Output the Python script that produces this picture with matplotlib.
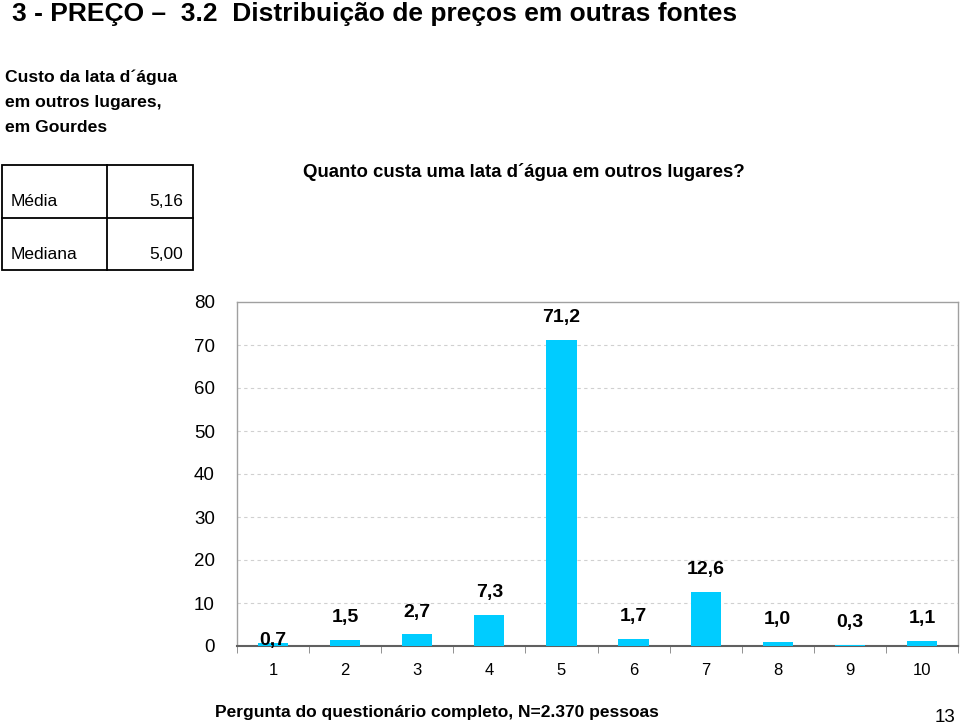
import matplotlib
matplotlib.use("Agg")
import matplotlib.pyplot as plt
from matplotlib.patches import Rectangle
from matplotlib.lines import Line2D

categories = ["1", "2", "3", "4", "5", "6", "7", "8", "9", "10"]
values = [0.7, 1.5, 2.7, 7.3, 71.2, 1.7, 12.6, 1.0, 0.3, 1.1]
labels = ["0,7", "1,5", "2,7", "7,3", "71,2", "1,7", "12,6", "1,0", "0,3", "1,1"]
yticks = [0, 10, 20, 30, 40, 50, 60, 70, 80]
stats_names = ["Média", "Mediana"]
stats_values = ["5,16", "5,00"]

narrow = ["Liberation Sans Narrow", "Liberation Sans", "DejaVu Sans"]
plt.rcParams['font.family'] = ["Liberation Sans", "DejaVu Sans"]

fig = plt.figure(figsize=(9.6, 7.27), dpi=100)
W, H = 960, 727

def fx(x): return x / W
def fy(y): return 1 - y / H

fig.text(fx(12), fy(14), "3 - PREÇO –  3.2  Distribuição de preços em outras fontes",
         family=narrow, fontsize=19, fontweight='bold', va='center', ha='left')
for i, line in enumerate(["Custo da lata d´água", "em outros lugares,", "em Gourdes"]):
    fig.text(fx(5), fy(77 + 25 * i), line, family=narrow, fontsize=12.6,
             fontweight='bold', va='center', ha='left')

# table
lw = 1.3
fig.add_artist(Rectangle((fx(2), fy(270)), fx(193) - fx(2), fy(165) - fy(270),
                         transform=fig.transFigure, fill=False, lw=lw, ec='black'))
fig.add_artist(Line2D([fx(2), fx(193)], [fy(218), fy(218)], transform=fig.transFigure, lw=lw, color='black'))
fig.add_artist(Line2D([fx(107), fx(107)], [fy(165), fy(270)], transform=fig.transFigure, lw=lw, color='black'))
for i, (n, v) in enumerate(zip(stats_names, stats_values)):
    y = 202 + 53 * i
    fig.text(fx(11), fy(y), n, fontsize=12.5, va='center', ha='left')
    fig.text(fx(183), fy(y), v, fontsize=12.5, va='center', ha='right')

fig.text(fx(303), fy(172), "Quanto custa uma lata d´água em outros lugares?",
         family=narrow, fontsize=13.4, fontweight='bold', va='center', ha='left')

ax = fig.add_axes([fx(237), fy(646), fx(958) - fx(237), fy(302) - fy(646)])
x = list(range(len(categories)))
ax.bar(x, values, width=0.42, color='#00CCFF', zorder=3)
ax.set_xlim(-0.5, len(categories) - 0.5)
ax.set_ylim(0, 80)
ax.set_yticks(yticks)
ax.set_yticklabels([str(t) for t in yticks], family=narrow, fontsize=13.5)
ax.set_xticks(x)
ax.set_xticklabels(categories, family=narrow, fontsize=12)
ax.tick_params(axis='y', length=0, pad=16)
ax.tick_params(axis='x', length=0, pad=12)
ax.set_xticks([i - 0.5 for i in range(len(categories) + 1)], minor=True)
ax.tick_params(axis='x', which='minor', length=5, color='#808080', direction='out')
for t in yticks[1:-1]:
    ax.axhline(t, color='#d0d0d0', lw=0.8, ls=(0, (3, 3)), zorder=1)
for s in ['top', 'right', 'left']:
    ax.spines[s].set_color('#a0a0a0')
    ax.spines[s].set_linewidth(1.0)
ax.spines['bottom'].set_color('#606060')
ax.spines['bottom'].set_linewidth(1.5)

for i, (v, lab) in enumerate(zip(values, labels)):
    off = -4 if i == 0 else 10
    ax.annotate(lab, (i, v), xytext=(0, off), textcoords='offset points',
                ha='center', va='bottom', family=narrow, fontsize=14, fontweight='bold', zorder=4)

fig.text(fx(215), fy(712), "Pergunta do questionário completo, N=2.370 pessoas",
         family=narrow, fontsize=12.5, fontweight='bold', va='center', ha='left')
fig.text(fx(955), fy(718), "13", family=narrow, fontsize=13.5, va='center', ha='right')

fig.savefig("out.png", dpi=100)
